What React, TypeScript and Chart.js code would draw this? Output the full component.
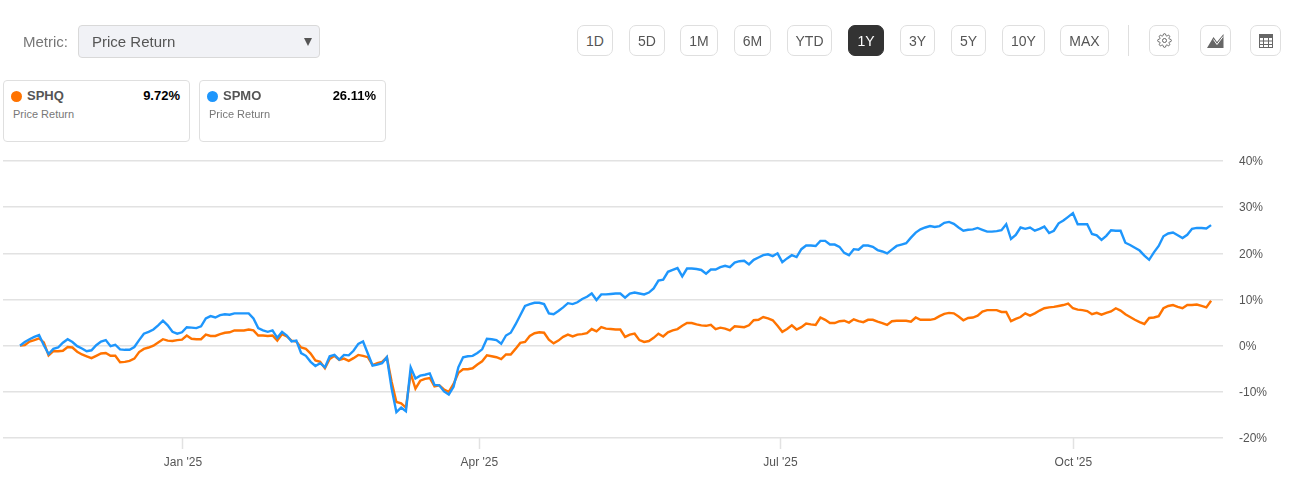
import React, { useEffect, useRef } from "react";
import { Chart, registerables } from "chart.js";

Chart.register(...registerables);

const sphq = [
  0, 0.1, 0.9, 1.2, 1.6, 0.7, -2.1, -1.2, -1.2, -1.1,
  -0.3, -0.4, -1.3, -1.9, -2.3, -2.7, -2.2, -1.7, -1.6, -2.2,
  -2.2, -3.6, -3.5, -3.3, -2.8, -1.4, -0.7, -0.4, 0, 0.7,
  1.4, 1.1, 1.0, 1.2, 1.3, 2.2, 1.5, 1.4, 1.4, 2.4,
  2.1, 2.1, 2.5, 2.8, 2.9, 3.3, 3.3, 3.3, 3.5, 3.3,
  2.2, 2.2, 2.1, 2.2, 1.1, 2.5, 2.0, 1.1, 0.9, -0.4,
  -0.7, -1.7, -3.2, -3.5, -4.9, -2.9, -2.2, -3.1, -2.8, -3.3,
  -2.7, -2.0, -2.2, -2.5, -4.2, -3.8, -3.5, -2.5, -7.8, -12.2,
  -12.5, -13.4, -6.0, -9.3, -7.6, -7.2, -7.0, -8.8, -8.6, -9.5,
  -10.0, -8.3, -5.9, -5.1, -5.1, -4.9, -4.1, -3.4, -2.1, -2.3,
  -2.5, -2.9, -1.9, -1.9, -0.7, 0.6, 0.8, 2.1, 2.7, 2.9,
  2.8, 1.3, 0.5, 1.1, 1.9, 2.4, 2.0, 2.4, 2.5, 2.7,
  3.6, 3.1, 4.0, 3.7, 3.6, 3.5, 3.5, 1.9, 2.4, 2.6,
  1.2, 0.8, 1.0, 1.7, 2.6, 2.0, 2.9, 3.3, 3.6, 4.3,
  4.9, 4.9, 4.6, 4.4, 4.3, 4.5, 3.6, 3.9, 3.7, 3.3,
  4.2, 4.1, 4.0, 4.4, 5.5, 5.6, 6.2, 5.9, 5.5, 4.3,
  3.0, 3.6, 4.4, 3.5, 4.0, 4.8, 4.6, 4.5, 6.1, 5.6,
  4.9, 4.9, 5.3, 5.4, 5.0, 5.7, 5.3, 5.1, 5.6, 5.6,
  5.2, 4.9, 4.5, 5.3, 5.4, 5.4, 5.4, 5.2, 6.1, 5.6,
  5.6, 5.6, 5.8, 6.4, 6.9, 7.1, 7.0, 6.3, 5.5, 6.0,
  6.1, 6.5, 7.4, 7.7, 7.7, 7.7, 7.3, 7.3, 5.3, 5.8,
  6.2, 7.0, 6.5, 7.0, 7.6, 8.1, 8.3, 8.4, 8.6, 8.8,
  9.1, 8.1, 7.8, 7.7, 7.5, 6.8, 7.1, 6.7, 7.1, 7.4,
  8.1, 7.6, 6.8, 6.2, 5.6, 5.1, 4.7, 6.0, 6.1, 6.4,
  8.1, 8.6, 8.8, 8.4, 8.1, 8.8, 8.8, 8.9, 8.6, 8.3,
  9.72,
];

const spmo = [
  0, 0.8, 1.4, 1.9, 2.3, 0.1, -1.8, -0.7, -0.4, 0.65,
  1.4, 0.8, -0.1, -0.6, -1.2, -1.0, 0.1, 0.9, 1.2, -0.1,
  0.2, -0.8, -0.9, -0.9, -0.3, 1.2, 2.6, 3.0, 3.5, 4.4,
  5.4, 4.4, 3.0, 2.6, 2.9, 4.0, 3.9, 3.8, 4.2, 5.9,
  6.4, 6.1, 6.6, 6.8, 6.7, 7.0, 7.0, 7.0, 7.0, 5.9,
  3.8, 3.3, 3.0, 3.3, 1.7, 3.0, 2.2, 0.9, 1.1, -1.6,
  -2.2, -3.5, -4.4, -3.8, -4.7, -2.3, -2.0, -3.0, -2.0, -2.1,
  -1.1, 0.4, 0.9, -1.7, -4.3, -4.1, -3.8, -2.5, -9.3, -14.4,
  -13.4, -14.2, -4.7, -7.1, -6.5, -6.3, -6.0, -8.5, -8.6, -9.9,
  -10.6, -8.9, -4.7, -2.5, -2.3, -2.2, -1.6, -0.8, 1.5, 1.4,
  1.2, 0.4, 2.2, 2.8, 4.6, 6.6, 8.6, 9.0, 9.3, 9.3,
  9.0, 7.0, 6.8, 7.5, 8.3, 9.2, 9.0, 9.4, 10.1, 10.6,
  11.3, 9.9, 11.1, 11.1, 11.2, 11.3, 11.3, 10.4, 11.3, 11.5,
  11.3, 11.1, 11.5, 12.4, 14.1, 14.3, 16.0, 16.4, 16.8, 15.0,
  16.7, 16.7, 16.6, 16.4, 15.6, 16.5, 16.5, 17.0, 17.3, 17.0,
  18.0, 18.3, 18.4, 17.6, 18.6, 19.1, 19.6, 19.8, 19.4, 20.0,
  18.1, 18.9, 19.6, 19.2, 20.9, 21.7, 21.7, 21.6, 22.7, 22.7,
  21.9, 21.9, 21.4, 20.1, 19.6, 20.9, 20.8, 21.7, 21.7, 21.4,
  20.7, 20.4, 20.0, 20.8, 21.6, 21.9, 22.2, 23.4, 24.5, 25.2,
  25.6, 25.9, 25.7, 25.9, 26.6, 26.8, 26.4, 25.6, 24.9, 25.1,
  25.2, 25.5, 25.1, 24.7, 24.7, 24.8, 25.0, 26.3, 23.1, 24.0,
  25.6, 25.3, 25.6, 24.9, 25.3, 25.8, 24.4, 24.9, 26.5, 27.1,
  27.9, 28.7, 26.3, 26.3, 26.3, 24.2, 23.9, 22.9, 23.8, 25.0,
  24.9, 24.9, 22.3, 21.8, 21.2, 20.6, 19.5, 18.6, 20.2, 21.6,
  23.7, 24.3, 24.5, 23.9, 23.3, 24.0, 25.3, 25.5, 25.5, 25.4,
  26.11,
];

const xTickSessions = [34.2, 96.4, 159.6, 221.1];
const xTickLabels = ["Jan '25", "Apr '25", "Jul '25", "Oct '25"];
const yTicks = [-20, -10, 0, 10, 20, 30, 40];
const ranges = ["1D", "5D", "1M", "6M", "YTD", "1Y", "3Y", "5Y", "10Y", "MAX"];
const activeRange = "1Y";
const cards = [
  { name: "SPHQ", value: "9.72%", sub: "Price Return", color: "#ff7300" },
  { name: "SPMO", value: "26.11%", sub: "Price Return", color: "#1e96fc" },
];

const FONT = '"Liberation Sans", Arial, sans-serif';
const GRID = "#e2e2e2";
const rangeBoxes = [
  [577, 36], [629, 36], [680, 38], [734, 37], [787, 45],
  [848, 36], [900, 35], [951, 35], [1002, 43], [1060, 49],
];
const GEAR = "M19.4 15a1.65 1.65 0 0 0 .33 1.82l.06.06a2 2 0 0 1 0 2.83 2 2 0 0 1-2.83 0l-.06-.06a1.65 1.65 0 0 0-1.82-.33 1.65 1.65 0 0 0-1 1.51V21a2 2 0 0 1-2 2 2 2 0 0 1-2-2v-.09A1.65 1.65 0 0 0 9 19.4a1.65 1.65 0 0 0-1.82.33l-.06.06a2 2 0 0 1-2.83 0 2 2 0 0 1 0-2.83l.06-.06a1.65 1.65 0 0 0 .33-1.82 1.65 1.65 0 0 0-1.51-1H3a2 2 0 0 1-2-2 2 2 0 0 1 2-2h.09A1.65 1.65 0 0 0 4.6 9a1.65 1.65 0 0 0-.33-1.82l-.06-.06a2 2 0 0 1 0-2.83 2 2 0 0 1 2.83 0l.06.06a1.65 1.65 0 0 0 1.82.33H9a1.65 1.65 0 0 0 1-1.51V3a2 2 0 0 1 2-2 2 2 0 0 1 2 2v.09a1.65 1.65 0 0 0 1 1.51 1.65 1.65 0 0 0 1.82-.33l.06-.06a2 2 0 0 1 2.83 0 2 2 0 0 1 0 2.83l-.06.06a1.65 1.65 0 0 0-.33 1.82V9a1.65 1.65 0 0 0 1.51 1H21a2 2 0 0 1 2 2 2 2 0 0 1-2 2h-.09a1.65 1.65 0 0 0-1.51 1z";

const abs = (l: number, t: number, w: number, h: number): React.CSSProperties => ({
  position: "absolute", left: l, top: t, width: w, height: h, boxSizing: "border-box",
});
const btn: React.CSSProperties = {
  border: "1px solid #dfdfdf", borderRadius: 7, background: "#fff",
  display: "flex", alignItems: "center", justifyContent: "center",
  color: "#555", fontSize: 14,
};

function Card({ c, left }: { c: (typeof cards)[number]; left: number }) {
  return (
    <div style={{ ...abs(left, 80, 187, 62), border: "1px solid #dfdfdf", borderRadius: 4, background: "#fff" }}>
      <div style={{ position: "absolute", left: 7, top: 10, width: 11, height: 11, borderRadius: "50%", background: c.color }} />
      <div style={{ position: "absolute", left: 23, top: 7, fontSize: 13, fontWeight: 700, color: "#555", lineHeight: "16px" }}>{c.name}</div>
      <div style={{ position: "absolute", right: 9, top: 7, fontSize: 13, fontWeight: 700, color: "#000", lineHeight: "16px" }}>{c.value}</div>
      <div style={{ position: "absolute", left: 9, top: 27, fontSize: 11, color: "#777", lineHeight: "13px" }}>{c.sub}</div>
    </div>
  );
}

export default function App() {
  const ref = useRef<HTMLCanvasElement | null>(null);
  useEffect(() => {
    if (!ref.current) return;
    const toPoints = (a: number[]) => a.map((y, x) => ({ x, y }));
    const chart = new Chart(ref.current, {
      type: "line",
      data: {
        datasets: [
          { label: "SPMO", data: toPoints(spmo), borderColor: "#1e96fc", borderWidth: 2.4, pointRadius: 0, tension: 0, order: 1 },
          { label: "SPHQ", data: toPoints(sphq), borderColor: "#ff7300", borderWidth: 2.4, pointRadius: 0, tension: 0, order: 2 },
        ],
      },
      options: {
        animation: false,
        responsive: false,
        layout: { padding: { left: 3, top: 161, right: 0, bottom: 0 } },
        plugins: { legend: { display: false }, tooltip: { enabled: false } },
        scales: {
          x: {
            type: "linear",
            min: -3.57,
            max: 252.5,
            border: { display: false },
            grid: { display: true, drawOnChartArea: false, drawTicks: true, tickLength: 11, tickColor: GRID, tickWidth: 1.5 },
            afterBuildTicks: (s: any) => { s.ticks = xTickSessions.map((value) => ({ value })); },
            afterFit: (s: any) => { s.height = 58; },
            ticks: {
              autoSkip: false, maxRotation: 0, padding: 6,
              color: "#555", font: { family: FONT, size: 12 },
              callback: (v: any) => xTickLabels[xTickSessions.indexOf(Number(v))] ?? "",
            },
          },
          y: {
            position: "right",
            min: -20,
            max: 40,
            border: { display: false },
            grid: { color: GRID, lineWidth: 1.5, drawTicks: false },
            afterBuildTicks: (s: any) => { s.ticks = yTicks.map((value) => ({ value })); },
            afterFit: (s: any) => { s.width = 72; },
            ticks: {
              padding: 16, crossAlign: "near", labelOffset: 1,
              color: "#555", font: { family: FONT, size: 12 },
              callback: (v: any) => `${v}%`,
            },
          },
        },
      },
    } as any);
    return () => chart.destroy();
  }, []);

  return (
    <div style={{ position: "absolute", left: 0, top: 0, width: 1295, height: 496, background: "#fff", fontFamily: FONT, overflow: "hidden" }}>
      <canvas ref={ref} width={1295} height={496} style={{ position: "absolute", left: 0, top: 0, display: "block" }} />
      <div style={{ position: "absolute", left: 23, top: 33, fontSize: 15, color: "#777", lineHeight: "17px" }}>Metric:</div>
      <div style={{ ...abs(78, 25, 242, 33), background: "#f1f2f6", border: "1px solid #d9d9d9", borderRadius: 4 }}>
        <div style={{ position: "absolute", left: 13, top: 7, fontSize: 15, color: "#555", lineHeight: "18px" }}>Price Return</div>
        <svg style={{ position: "absolute", left: 225, top: 12 }} width="9" height="9"><path d="M0 0H8L4 8Z" fill="#555" /></svg>
      </div>
      {ranges.map((r, i) => {
        const on = r === activeRange;
        return (
          <div key={r} style={{ ...abs(rangeBoxes[i][0], 25, rangeBoxes[i][1], 31), ...btn,
            background: on ? "#333" : "#fff", color: on ? "#fff" : "#555", borderColor: on ? "#333" : "#dfdfdf" }}>{r}</div>
        );
      })}
      <div style={{ position: "absolute", left: 1128, top: 25, width: 1, height: 31, background: "#dfdfdf" }} />
      <div style={{ ...abs(1149, 25, 30, 31), ...btn }}>
        <svg width="15" height="15" viewBox="0 0 24 24" fill="none" stroke="#666" strokeWidth="1.6">
          <circle cx="12" cy="12" r="3.2" />
          <path d={GEAR} />
        </svg>
      </div>
      <div style={{ ...abs(1200, 25, 31, 31), ...btn }}>
        <svg width="17" height="14" viewBox="0 0 17 14">
          <path d="M0 14L6.5 3L10 8L16.5 0V14Z" fill="#666" />
          <path d="M6.5 5.5L10 10.5L16 2.5" fill="none" stroke="#fff" strokeWidth="1" />
        </svg>
      </div>
      <div style={{ ...abs(1250, 25, 31, 31), ...btn }}>
        <svg width="14" height="14" viewBox="0 0 14 14">
          <rect x="0" y="0" width="14" height="14" fill="#666" />
          <path d="M1 4h3v2.5H1zM5 4h4v2.5H5zM10 4h3v2.5h-3zM1 7.5h3V10H1zM5 7.5h4V10H5zM10 7.5h3V10h-3zM1 11h3v2H1zM5 11h4v2H5zM10 11h3v2h-3z" fill="#fff" />
        </svg>
      </div>
      <Card c={cards[0]} left={3} />
      <Card c={cards[1]} left={199} />
    </div>
  );
}
